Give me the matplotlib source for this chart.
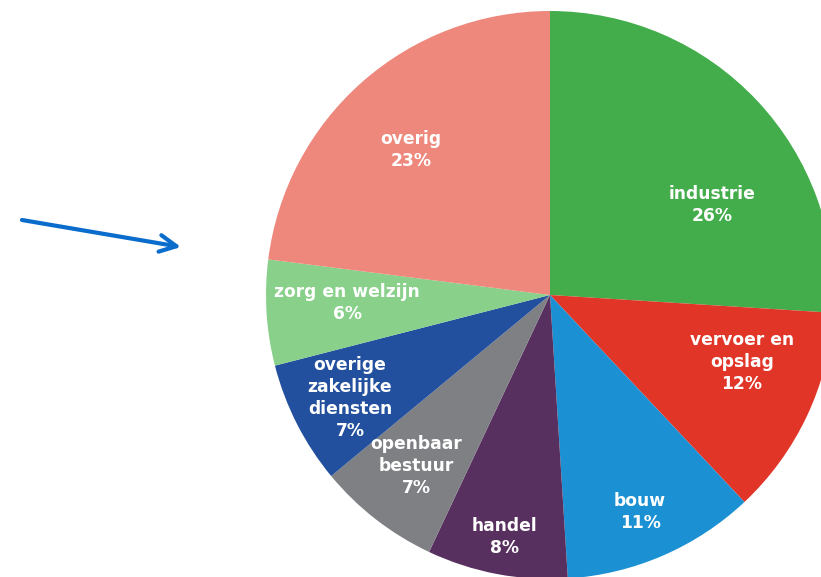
import matplotlib
matplotlib.use("Agg")
import matplotlib.pyplot as plt

categories = ["industrie", "vervoer en\nopslag", "bouw", "handel", "openbaar\nbestuur",
              "overige\nzakelijke\ndiensten", "zorg en welzijn", "overig"]
values = [26, 12, 11, 8, 7, 7, 6, 23]
colors = ["#43ad4b", "#e13528", "#1b90d2", "#58305f", "#7e8084", "#22509e", "#89d08b", "#ee877c"]
# label centre positions (pixels from top-left)
label_pos = [(712, 205), (742, 362), (640, 512), (504, 537), (416, 466),
             (350, 398), (347, 303), (411, 150)]

W, H = 821, 577
fig = plt.figure(figsize=(W / 100, H / 100), dpi=100)
ax = fig.add_axes([0, 0, 1, 1])

cx, cy, r = 550, H - 295, 284
ax.pie(values, colors=colors, startangle=90, counterclock=False,
       center=(cx, cy), radius=r, frame=True,
       wedgeprops=dict(edgecolor="none", linewidth=0))
ax.set_xlim(0, W)
ax.set_ylim(0, H)
ax.set_aspect("equal")
ax.axis("off")

for cat, v, (x, y) in zip(categories, values, label_pos):
    ax.text(x, H - y, f"{cat}\n{v}%", ha="center", va="center", color="white",
            fontsize=12.3, fontweight="bold", family="DejaVu Sans", linespacing=1.3)

ax.annotate("", xy=(181, H - 247), xytext=(22, H - 220),
            arrowprops=dict(arrowstyle="->", color="#0a6dcc", lw=3.0,
                            mutation_scale=30, shrinkA=0, shrinkB=0))

fig.savefig("out.png", dpi=100)
